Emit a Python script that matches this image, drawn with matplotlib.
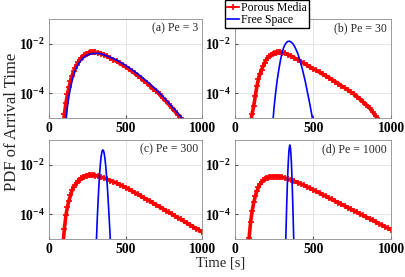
import numpy as np
import matplotlib
matplotlib.use("Agg")
from matplotlib import pyplot as plt
from matplotlib.ticker import FixedLocator, FixedFormatter, NullFormatter, LogLocator

plt.rcParams['font.family'] = ['Liberation Serif', 'DejaVu Serif']
plt.rcParams['mathtext.fontset'] = 'custom'
plt.rcParams['mathtext.rm'] = 'Liberation Serif'
plt.rcParams['mathtext.bf'] = 'Liberation Serif:bold'

# arrival times [s] sampled for the porous media curves
t_red = [90, 100, 110, 120, 130, 140, 150, 160, 170, 180, 190, 200, 210, 220, 230,
         240, 250, 260, 270, 280, 290, 300,
         320, 340, 360, 380, 400, 420, 440, 460, 480, 500, 520, 540, 560, 580, 600,
         620, 640, 660, 680, 700, 720, 740, 760, 780, 800, 820, 840, 860, 880, 900,
         920, 940, 960, 980, 1000]

# log10 of PDF values
red_a = [-5.4, -4.85, -4.40, -4.05, -3.76, -3.51, -3.30, -3.12, -2.98, -2.86, -2.75,
         -2.66, -2.58, -2.52, -2.47, -2.43, -2.40, -2.37, -2.35, -2.34, -2.34, -2.34,
         -2.36, -2.40, -2.45, -2.51, -2.58, -2.64, -2.71, -2.79, -2.86, -2.94, -3.02,
         -3.11, -3.20, -3.29, -3.39, -3.49, -3.59, -3.70, -3.81, -3.92, -4.05, -4.18,
         -4.31, -4.45, -4.59, -4.73, -4.87, -5.02, -5.17]
red_b = [-5.8, -5.15, -4.82, -4.50, -4.10, -3.72, -3.42, -3.22, -3.05, -2.90, -2.77,
         -2.65, -2.57, -2.51, -2.46, -2.42, -2.39, -2.37, -2.35, -2.35, -2.35, -2.36,
         -2.39, -2.44, -2.50, -2.57, -2.64, -2.72, -2.79, -2.86, -2.94, -3.01, -3.08,
         -3.15, -3.23, -3.30, -3.37, -3.45, -3.53, -3.61, -3.70, -3.78, -3.86, -3.95,
         -4.03, -4.14, -4.25, -4.36, -4.47, -4.60, -4.76, -4.93, -5.10]
red_c = [-5.3, -4.60, -4.05, -3.71, -3.45, -3.24, -3.04, -2.91, -2.81, -2.72, -2.65,
         -2.60, -2.55, -2.51, -2.48, -2.46, -2.44, -2.43, -2.43, -2.43, -2.43, -2.44,
         -2.46, -2.50, -2.54, -2.59, -2.64, -2.69, -2.74, -2.80, -2.86, -2.92, -2.99,
         -3.06, -3.13, -3.20, -3.27, -3.34, -3.41, -3.48, -3.56, -3.63, -3.70, -3.77,
         -3.85, -3.92, -3.99, -4.07, -4.14, -4.21, -4.29, -4.36, -4.44, -4.51, -4.58,
         -4.65, -4.72]
red_d = [-4.95, -4.30, -3.86, -3.52, -3.26, -3.06, -2.91, -2.79, -2.70, -2.63, -2.58,
         -2.54, -2.52, -2.50, -2.49, -2.48, -2.48, -2.48, -2.48, -2.49, -2.50, -2.51,
         -2.54, -2.58, -2.62, -2.67, -2.72, -2.77, -2.83, -2.89, -2.95, -3.01, -3.08,
         -3.14, -3.21, -3.27, -3.34, -3.40, -3.47, -3.53, -3.60, -3.66, -3.73, -3.79,
         -3.86, -3.92, -3.99, -4.05, -4.12, -4.18, -4.25, -4.31, -4.38, -4.44, -4.51,
         -4.57, -4.63]

t_blue_a = [110, 120, 130, 140, 150, 160, 170, 180, 190, 200, 220, 240, 260, 280, 300,
            320, 340, 360, 380, 400, 420, 440, 460, 480, 500, 520, 540, 560, 580, 600,
            620, 640, 660, 680, 700, 720, 740, 760, 780, 800, 820, 840, 860, 880]
blue_a = [-5.15, -4.55, -4.12, -3.78, -3.50, -3.27, -3.10, -2.95, -2.84, -2.74, -2.59,
          -2.49, -2.43, -2.40, -2.39, -2.39, -2.41, -2.45, -2.50, -2.55, -2.60, -2.66,
          -2.73, -2.80, -2.88, -2.96, -3.05, -3.14, -3.23, -3.33, -3.43, -3.53, -3.64,
          -3.75, -3.86, -3.99, -4.12, -4.25, -4.39, -4.53, -4.67, -4.81, -4.96, -5.11]
t_blue_b = [240, 250, 260, 270, 280, 290, 300, 310, 320, 330, 340, 350, 360, 370, 380,
            390, 400, 410, 420, 430, 440, 450, 460, 470, 480, 490, 500]
blue_b = [-5.3, -4.55, -3.96, -3.45, -3.05, -2.68, -2.38, -2.17, -2.03, -1.94, -1.90,
          -1.90, -1.94, -2.00, -2.10, -2.23, -2.38, -2.57, -2.77, -3.02, -3.28, -3.55,
          -3.87, -4.18, -4.50, -4.85, -5.2]
t_blue_c = [305, 310, 315, 320, 325, 330, 335, 340, 345, 350, 355, 360, 365, 370, 375,
            380, 385, 390, 395, 400]
blue_c = [-5.4, -4.9, -4.1, -3.45, -2.85, -2.35, -1.95, -1.65, -1.47, -1.40, -1.43,
          -1.56, -1.78, -2.08, -2.45, -2.88, -3.38, -3.93, -4.5, -5.1]
t_blue_d = [320, 325, 330, 335, 340, 345, 350, 355, 360, 365, 370, 375, 380]
blue_d = [-5.6, -4.9, -3.7, -2.7, -1.95, -1.40, -1.20, -1.35, -1.85, -2.70, -3.75,
          -4.95, -6.3]

panel_titles = ['(a) Pe = 3', '(b) Pe = 30', '(c) Pe = 300', '(d) Pe = 1000']
red_series = [red_a, red_b, red_c, red_d]
blue_times = [t_blue_a, t_blue_b, t_blue_c, t_blue_d]
blue_series = [blue_a, blue_b, blue_c, blue_d]

W, H = 406, 277
fig = plt.figure(figsize=(W / 100, H / 100), dpi=100)

boxes = [(49, 19, 153.5, 99), (235, 19, 156.5, 99),
         (49, 140, 153.5, 99), (235, 140, 156.5, 99)]

for i, (x0, y0, w, h) in enumerate(boxes):
    ax = fig.add_axes([x0 / W, 1 - (y0 + h) / H, w / W, h / H])
    tr = np.array(t_red[:len(red_series[i])])
    ax.plot(tr, 10.0 ** np.array(red_series[i]), color='red', lw=2.6,
            marker='+', ms=4.2, mew=1.2, label='Porous Media')
    ax.plot(blue_times[i], 10.0 ** np.array(blue_series[i]), color='blue', lw=1.2,
            label='Free Space')
    ax.set_yscale('log')
    ax.set_xlim(0, 1000)
    ax.set_ylim(1e-5, 1e-1)
    ax.xaxis.set_major_locator(FixedLocator([0, 500, 1000]))
    ax.xaxis.set_major_formatter(FixedFormatter(['0', '500', '1000']))
    ax.yaxis.set_major_locator(FixedLocator([1e-4, 1e-2]))
    ax.yaxis.set_major_formatter(FixedFormatter([r'$\mathbf{10^{-4}}$', r'$\mathbf{10^{-2}}$']))
    ax.yaxis.set_minor_locator(LogLocator(base=10, subs=np.arange(2, 10)))
    ax.yaxis.set_minor_formatter(NullFormatter())
    for lab in ax.get_xticklabels():
        lab.set_fontweight('bold')
    ax.tick_params(which='both', direction='in', labelsize=9.8, color='0.3')
    ax.tick_params(which='major', length=2.5, pad=3)
    ax.tick_params(which='minor', length=1.2)
    ax.grid(True, which='major', color='0.85', lw=0.5)
    ax.yaxis.grid(True, which='minor', color='0.9', lw=0.4, ls=':')
    ax.set_axisbelow(True)
    for sp in ax.spines.values():
        sp.set_color('0.55')
        sp.set_linewidth(0.6)
    ax.text(0.97, 0.965, panel_titles[i], transform=ax.transAxes, ha='right', va='top',
            fontsize=8.5, color='0.15')
    if i == 0:
        handles, labels = ax.get_legend_handles_labels()

leg = fig.legend(handles, labels, loc='upper left', bbox_to_anchor=(225 / W, 1.0),
                 fontsize=8.5, frameon=True, fancybox=False, edgecolor='black',
                 framealpha=1, handlelength=1.0, handletextpad=0.2, borderpad=0.15,
                 labelspacing=0.05, borderaxespad=0.0)
leg.legend_handles[0].set_linewidth(1.3)

fig.text(12 / W, 1 - 122 / H, 'PDF of Arrival Time', rotation=90, ha='center',
         va='center', fontsize=12, color='0.15')
fig.text(221 / W, 1 - 263 / H, 'Time [s]', ha='center', va='center', fontsize=10.5,
         color='0.15')

fig.savefig('out.png', dpi=100)
